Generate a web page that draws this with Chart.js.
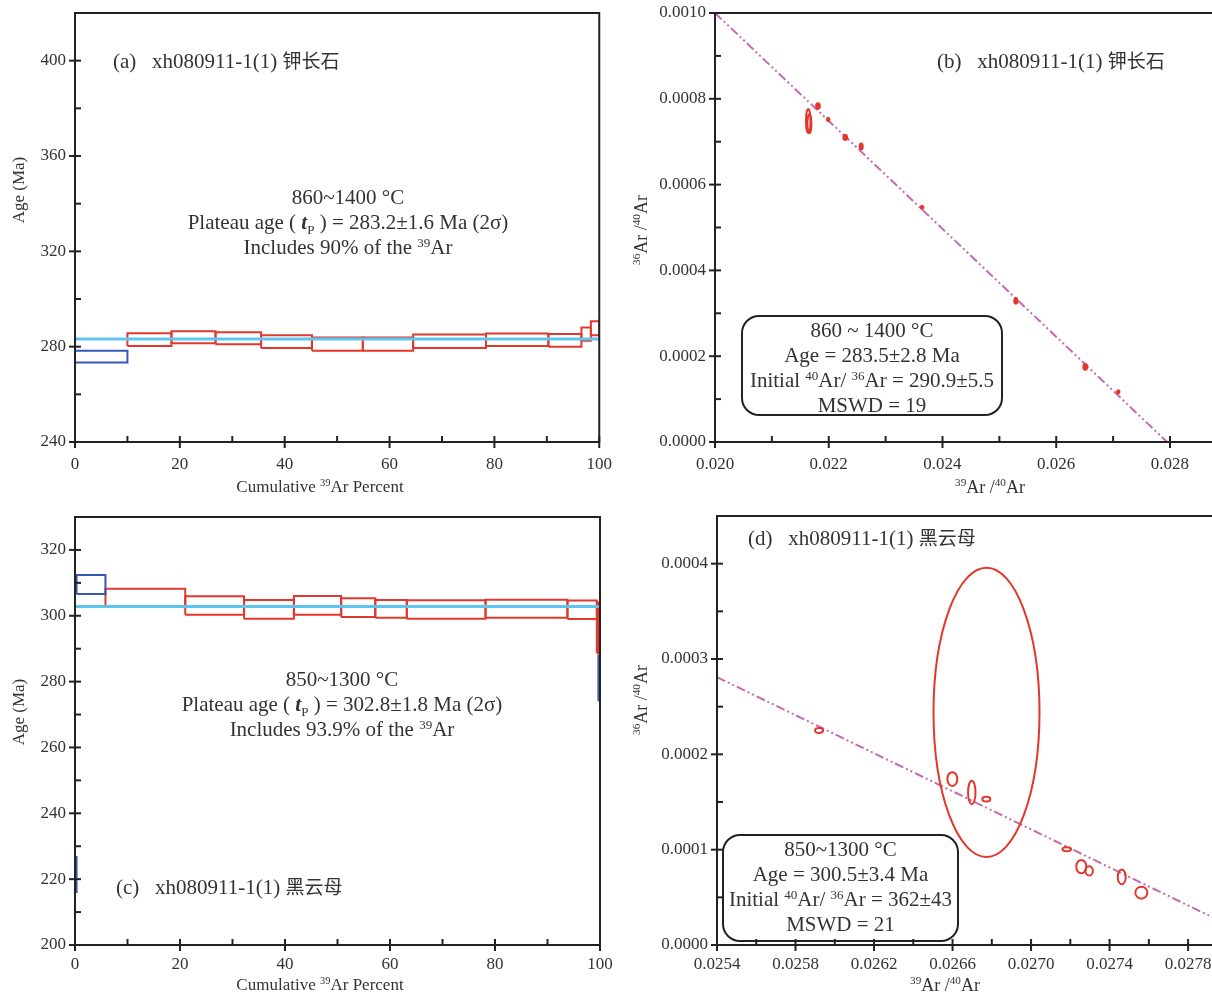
<!doctype html>
<html lang="zh">
  <head>
    <meta charset="UTF-8" />
    <title>Ar-Ar plateau ages and isochrons</title>
    <script src="https://cdn.jsdelivr.net/npm/chart.js"></script>
    <style>
      body {
        margin: 0;
        background: #fff;
        overflow: hidden;
        font-family: "Liberation Serif", "Times New Roman", serif;
        color: #333;
      }
      #page {
        position: relative;
        width: 1212px;
        height: 992px;
        overflow: hidden;
      }
      canvas {
        position: absolute;
      }
      .txt {
        position: absolute;
        white-space: nowrap;
        font-size: 21px;
        line-height: 25px;
      }
      .mid {
        transform: translateX(-50%);
        text-align: center;
      }
      .cjk {
        font-family: "Noto Sans CJK SC", sans-serif;
        font-size: 19px;
      }
      sup {
        font-size: 0.62em;
        vertical-align: 0.55em;
        line-height: 0;
      }
      sub {
        font-size: 0.62em;
        line-height: 0;
      }
      .box {
        position: absolute;
        box-sizing: border-box;
        border: 2px solid #222;
        border-radius: 18px;
        text-align: center;
        white-space: nowrap;
        font-size: 21px;
        line-height: 25px;
        padding-top: 1px;
      }
      .axt {
        position: absolute;
        white-space: nowrap;
        font-size: 17px;
        transform: translate(-50%, -50%);
      }
      .axt.rot {
        transform: translate(-50%, -50%) rotate(-90deg);
      }
      .axt.big {
        font-size: 18px;
      }
    </style>
  </head>

  <body>
    <div id="page">
      <canvas id="chartA" width="624" height="507" style="left: 0; top: -7px"></canvas>
      <canvas id="chartB" width="624" height="507" style="left: 620px; top: -7px"></canvas>
      <canvas id="chartC" width="624" height="495" style="left: 0; top: 497px"></canvas>
      <canvas id="chartD" width="624" height="496" style="left: 620px; top: 496px"></canvas>

      <!-- panel a -->
      <div class="txt" style="left: 113px; top: 47px">(a)&nbsp;&nbsp; xh080911-1(1) <span class="cjk">钾长石</span></div>
      <div class="txt mid" style="left: 348px; top: 185px">
        860~1400 °C<br />
        Plateau age ( <i><b>t</b></i><sub>P</sub> ) = 283.2±1.6 Ma (2σ)<br />
        Includes 90% of the <sup>39</sup>Ar
      </div>
      <div class="axt rot" style="left: 19px; top: 190px">Age (Ma)</div>
      <div class="axt" style="left: 320px; top: 487px">Cumulative <sup>39</sup>Ar Percent</div>

      <!-- panel b -->
      <div class="txt" style="left: 937px; top: 47px">(b)&nbsp;&nbsp; xh080911-1(1) <span class="cjk">钾长石</span></div>
      <div class="box" style="left: 741px; top: 315px; width: 262px; height: 101px">
        860 ~ 1400 °C<br />
        Age = 283.5±2.8 Ma<br />
        Initial <sup>40</sup>Ar/ <sup>36</sup>Ar = 290.9±5.5<br />
        MSWD = 19
      </div>
      <div class="axt rot big" style="left: 641px; top: 230px"><sup>36</sup>Ar /<sup>40</sup>Ar</div>
      <div class="axt big" style="left: 990px; top: 487px"><sup>39</sup>Ar /<sup>40</sup>Ar</div>

      <!-- panel c -->
      <div class="txt" style="left: 116px; top: 873px">(c)&nbsp;&nbsp; xh080911-1(1) <span class="cjk">黑云母</span></div>
      <div class="txt mid" style="left: 342px; top: 667px">
        850~1300 °C<br />
        Plateau age ( <i><b>t</b></i><sub>P</sub> ) = 302.8±1.8 Ma (2σ)<br />
        Includes 93.9% of the <sup>39</sup>Ar
      </div>
      <div class="axt rot" style="left: 19px; top: 712px">Age (Ma)</div>
      <div class="axt" style="left: 320px; top: 985px">Cumulative <sup>39</sup>Ar Percent</div>

      <!-- panel d -->
      <div class="txt" style="left: 748px; top: 524px">(d)&nbsp;&nbsp; xh080911-1(1) <span class="cjk">黑云母</span></div>
      <div class="box" style="left: 722px; top: 834px; width: 237px; height: 108px">
        850~1300 °C<br />
        Age = 300.5±3.4 Ma<br />
        Initial <sup>40</sup>Ar/ <sup>36</sup>Ar = 362±43<br />
        MSWD = 21
      </div>
      <div class="axt rot big" style="left: 641px; top: 700px"><sup>36</sup>Ar /<sup>40</sup>Ar</div>
      <div class="axt big" style="left: 945px; top: 985px"><sup>39</sup>Ar /<sup>40</sup>Ar</div>
    </div>

    <script>
      // (a) K-feldspar age spectrum: cumulative 39Ar % boundaries, age low/high (Ma)
      const aBounds = [0, 10.0, 18.4, 26.8, 35.5, 45.2, 54.9, 64.5, 78.4, 90.3, 96.6, 98.4, 100];
      const aLow = [273.4, 280.3, 281.4, 281.0, 279.4, 278.3, 278.3, 279.4, 280.3, 280.0, 282.5, 284.8];
      const aHigh = [278.3, 285.6, 286.5, 286.1, 284.8, 283.8, 283.8, 285.1, 285.5, 285.3, 288.0, 290.7];
      const aInPlateau = [false, true, true, true, true, true, true, true, true, true, true, true];
      const aPlateau = 283.2;

      // (c) biotite age spectrum
      const cBounds = [0, 0.3, 5.8, 21.0, 32.2, 41.7, 50.7, 57.2, 63.2, 78.2, 93.8, 99.4, 99.7, 100];
      const cLow = [216.1, 306.6, 302.7, 300.3, 299.1, 300.3, 299.6, 299.4, 299.1, 299.4, 299.0, 288.6, 274.2];
      const cHigh = [226.7, 312.4, 308.2, 305.9, 304.8, 306.0, 305.3, 304.8, 304.7, 304.9, 304.6, 304.0, 287.9];
      const cInPlateau = [false, false, true, true, true, true, true, true, true, true, true, true, false];
      const cPlateau = 302.8;

      // (b) K-feldspar inverse isochron: 39Ar/40Ar, 36Ar/40Ar and error half-widths
      const bX = [0.02164, 0.02166, 0.02181, 0.02199, 0.02229, 0.02257, 0.02364, 0.02529, 0.02651, 0.02709];
      const bY = [0.000748, 0.000742, 0.000783, 0.000752, 0.00071, 0.000689, 0.000547, 0.000329, 0.000175, 0.000117];
      const bErrX = [0.00004, 0.000035, 0.00005, 0.00004, 0.00005, 0.000045, 0.00004, 0.000045, 0.00005, 0.00004];
      const bErrY = [0.000028, 0.000022, 0.000009, 0.000006, 0.000008, 0.000009, 0.000006, 0.000009, 0.000009, 0.000006];
      const bSolid = [false, false, true, true, true, true, true, true, true, true];
      const bLineX = [0.02, 0.02795];
      const bLineY = [0.001, 0.0];

      // (d) biotite inverse isochron
      const dX = [0.02592, 0.026773, 0.026599, 0.026698, 0.026772, 0.027182, 0.027256, 0.027296, 0.027462, 0.027562];
      const dY = [0.000225, 0.000244, 0.000174, 0.00016, 0.000153, 0.0001005, 0.0000822, 0.0000777, 0.0000714, 0.0000549];
      const dErrX = [0.0000204, 0.00027, 0.0000255, 0.0000189, 0.0000204, 0.0000219, 0.0000255, 0.0000189, 0.0000204, 0.0000306];
      const dErrY = [0.0000026, 0.0001517, 0.0000073, 0.0000123, 0.0000024, 0.0000021, 0.000007, 0.0000049, 0.0000077, 0.0000063];
      const dLineX = [0.0254, 0.02795];
      const dLineY = [0.000281, 0.0000265];

      const RED = "#e2372c";
      const BLUE = "#3558b4";
      const CYAN = "#5cc6ef";
      const PURPLE = "#c46bb0";
      const FONT = "'Liberation Serif', 'Times New Roman', serif";

      // frame round the plot area plus major (crossing) and minor (inside) tick marks
      const frameTicks = {
        id: "frameTicks",
        afterDraw(chart) {
          const { ctx, chartArea: a } = chart;
          ctx.save();
          ctx.strokeStyle = "#222";
          ctx.lineWidth = 2;
          ctx.strokeRect(a.left, a.top, a.right - a.left, a.bottom - a.top);
          ["x", "y"].forEach((id) => {
            const s = chart.scales[id];
            s.ticks.forEach((t) => {
              const p = s.getPixelForValue(t.value);
              const major = t.label !== "";
              ctx.beginPath();
              if (id === "x") {
                ctx.moveTo(p, a.bottom - 6);
                ctx.lineTo(p, major ? a.bottom + 6 : a.bottom);
              } else {
                ctx.moveTo(a.left + 6, p);
                ctx.lineTo(major ? a.left - 6 : a.left, p);
              }
              ctx.stroke();
            });
          });
          ctx.restore();
        },
      };

      // error ellipses: centre from the point element, radii through the scales
      const ellipses = {
        id: "ellipses",
        afterDatasetsDraw(chart) {
          const { ctx, chartArea: a } = chart;
          const xs = chart.scales.x;
          const ys = chart.scales.y;
          ctx.save();
          ctx.beginPath();
          ctx.rect(a.left, a.top, a.right - a.left, a.bottom - a.top);
          ctx.clip();
          chart.data.datasets.forEach((ds, i) => {
            if (!ds.ellipse) return;
            chart.getDatasetMeta(i).data.forEach((el, j) => {
              const d = ds.data[j];
              const rx = Math.abs(xs.getPixelForValue(d.x + d.ex) - el.x);
              const ry = Math.abs(ys.getPixelForValue(d.y + d.ey) - el.y);
              ctx.beginPath();
              ctx.ellipse(el.x, el.y, rx, ry, 0, 0, Math.PI * 2);
              if (d.solid) {
                ctx.fillStyle = RED;
                ctx.fill();
              } else {
                ctx.strokeStyle = RED;
                ctx.lineWidth = 2;
                ctx.stroke();
              }
            });
          });
          ctx.restore();
        },
      };

      function axis(min, max, step, origin, major, digits, size, pad) {
        return {
          type: "linear",
          min: min,
          max: max,
          grid: { display: false, drawTicks: false },
          border: { display: false },
          ticks: {
            stepSize: step,
            autoSkip: false,
            maxRotation: 0,
            includeBounds: false,
            padding: pad,
            color: "#333",
            font: { family: FONT, size: 17 },
            callback: (v) => {
              const k = (v - origin) / major;
              return Math.abs(k - Math.round(k)) < 1e-6 ? v.toFixed(digits) : "";
            },
          },
          afterFit: (s) => {
            if (s.isHorizontal()) s.height = size;
            else s.width = size;
          },
        };
      }

      function stepBoxes(bounds, low, high, inPlateau) {
        return low.map((lo, i) => ({
          data: [
            { x: bounds[i], y: lo },
            { x: bounds[i + 1], y: lo },
            { x: bounds[i + 1], y: high[i] },
            { x: bounds[i], y: high[i] },
            { x: bounds[i], y: lo },
          ],
          borderColor: inPlateau[i] ? RED : BLUE,
          borderWidth: 2,
          showLine: true,
          pointRadius: 0,
        }));
      }

      function plateauLine(value) {
        return {
          data: [
            { x: 0, y: value },
            { x: 100, y: value },
          ],
          borderColor: CYAN,
          borderWidth: 3,
          showLine: true,
          pointRadius: 0,
        };
      }

      function isoLine(xs, ys) {
        return {
          data: xs.map((x, i) => ({ x: x, y: ys[i] })),
          borderColor: PURPLE,
          borderWidth: 2,
          borderDash: [9, 3, 2, 3, 2, 3],
          showLine: true,
          pointRadius: 0,
        };
      }

      function errPoints(xs, ys, ex, ey, solid) {
        return {
          ellipse: true,
          data: xs.map((x, i) => ({ x: x, y: ys[i], ex: ex[i], ey: ey[i], solid: solid ? solid[i] : false })),
          pointRadius: 0,
          showLine: false,
        };
      }

      function makeChart(id, datasets, xAxis, yAxis, padding) {
        return new Chart(document.getElementById(id), {
          type: "scatter",
          data: { datasets: datasets },
          options: {
            responsive: false,
            animation: false,
            events: [],
            layout: { padding: padding },
            plugins: { legend: { display: false }, tooltip: { enabled: false } },
            scales: { x: xAxis, y: yAxis },
          },
          plugins: [ellipses, frameTicks],
        });
      }

      makeChart(
        "chartA",
        [plateauLine(aPlateau)].concat(stepBoxes(aBounds, aLow, aHigh, aInPlateau)),
        axis(0, 100, 10, 0, 20, 0, 58, 12),
        axis(240, 420, 20, 240, 40, 0, 75, 9),
        { top: 20, right: 24, left: 0, bottom: 0 }
      );

      // plot area runs past the page edge, as in the cropped original
      makeChart(
        "chartB",
        [isoLine(bLineX, bLineY), errPoints(bX, bY, bErrX, bErrY, bSolid)],
        axis(0.02, 0.028774, 0.001, 0.02, 0.002, 3, 58, 12),
        axis(0, 0.001, 0.0001, 0, 0.0002, 4, 95, 9),
        { top: 20, right: 30, left: 0, bottom: 0 }
      );

      makeChart(
        "chartC",
        [plateauLine(cPlateau)].concat(stepBoxes(cBounds, cLow, cHigh, cInPlateau)),
        axis(0, 100, 10, 0, 20, 0, 47, 9),
        axis(200, 330, 10, 200, 20, 0, 75, 9),
        { top: 20, right: 24, left: 0, bottom: 0 }
      );

      makeChart(
        "chartD",
        [isoLine(dLineX, dLineY), errPoints(dX, dY, dErrX, dErrY, null)],
        axis(0.0254, 0.027932, 0.0002, 0.0254, 0.0004, 4, 47, 9),
        axis(0, 0.00045, 0.00005, 0, 0.0001, 4, 97, 9),
        { top: 20, right: 30, left: 0, bottom: 0 }
      );
    </script>
  </body>
</html>
